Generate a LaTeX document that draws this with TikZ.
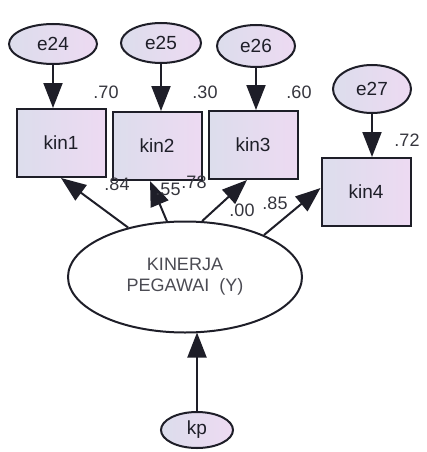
\documentclass[tikz,border=0pt]{standalone}
\usepackage{fontspec}
\setmainfont{Liberation Sans}
\usetikzlibrary{arrows.meta,calc,shapes.geometric}
\definecolor{boxL}{HTML}{DCDDEC}
\definecolor{boxR}{HTML}{EDDAF2}
\definecolor{ink}{HTML}{1E1E28}
\tikzset{
  obs/.style={draw=ink,line width=2pt,minimum width=89pt,minimum height=68pt,
    left color=boxL,right color=boxR,text=ink,font=\fontsize{19}{20}\selectfont},
  err/.style={ellipse,draw=ink,line width=2pt,minimum width=80pt,minimum height=40pt,
    left color=boxL,right color=boxR,text=ink,font=\fontsize{19}{20}\selectfont,inner sep=0pt},
  lat/.style={ellipse,draw=ink,line width=2pt,minimum width=234pt,minimum height=111pt,
    fill=white,text=ink!80,align=center,font=\fontsize{18}{21}\selectfont,inner sep=0pt},
  lbl/.style={text=ink!90,font=\fontsize{18}{18}\selectfont,inner sep=0pt},
  arr/.style={draw=ink,line width=2pt,-{Triangle[length=25pt,width=19pt]}}
}
\begin{document}
\begin{tikzpicture}[x=1pt,y=-1pt]
\useasboundingbox (0,0) rectangle (427,452);

% indicators
\node[obs] (kin1) at (61,143) {kin1};
\node[obs] (kin2) at (157,146) {kin2};
\node[obs] (kin3) at (253,145) {kin3};
\node[obs] (kin4) at (366,192) {kin4};

% error terms
\node[err,minimum width=88pt,minimum height=40pt] (e24) at (53,44) {e24};
\node[err] (e25) at (161,43) {e25};
\node[err,minimum width=78pt,minimum height=42pt] (e26) at (256,46) {e26};
\node[err,minimum width=78pt,minimum height=48pt] (e27) at (372,89) {e27};

% latent construct and its cause
\node[lat] (Y) at (185,277) {KINERJA\\PEGAWAI\ \ (Y)};
\node[err,minimum width=72pt,minimum height=36pt] (kp) at (197,430) {kp};

% error arrows (vertical)
\draw[arr] (e24.south) -- (e24.south |- kin1.north);
\draw[arr] (e25.south) -- (e25.south |- kin2.north);
\draw[arr] (e26.south) -- (e26.south |- kin3.north);
\draw[arr] (e27.south) -- (e27.south |- kin4.north);

% loadings
\coordinate (t2) at ($(kin2.south)+(-7,0)$);
\coordinate (t3) at ($(kin3.south)+(-6,0)$);
\coordinate (t4) at ($(kin4.west)+(0,-4)$);
\coordinate (ky) at ($(kp.north |- Y.south)+(0,-1)$);
\draw[arr] (Y.139) -- (kin1.south);
\draw[arr] (Y.108) -- (t2);
\draw[arr] (Y.73) -- (t3);
\draw[arr] (Y.28) -- (t4);
\draw[arr] (kp.north) -- (ky);

% estimates
\node[lbl] (r1) at (106,92) {.70};
\node[lbl] (r2) at (205,92) {.30};
\node[lbl] (r3) at (299,92) {.60};
\node[lbl] (r4) at (407,140) {.72};
\node[lbl] (l1) at (117,184) {.84};
\node[lbl] (l2) at (168,189) {.55};
\node[lbl] (l3) at (194,182) {.78};
\node[lbl] (l0) at (242,210) {.00};
\node[lbl] (l4) at (275,203) {.85};
\end{tikzpicture}
\end{document}
